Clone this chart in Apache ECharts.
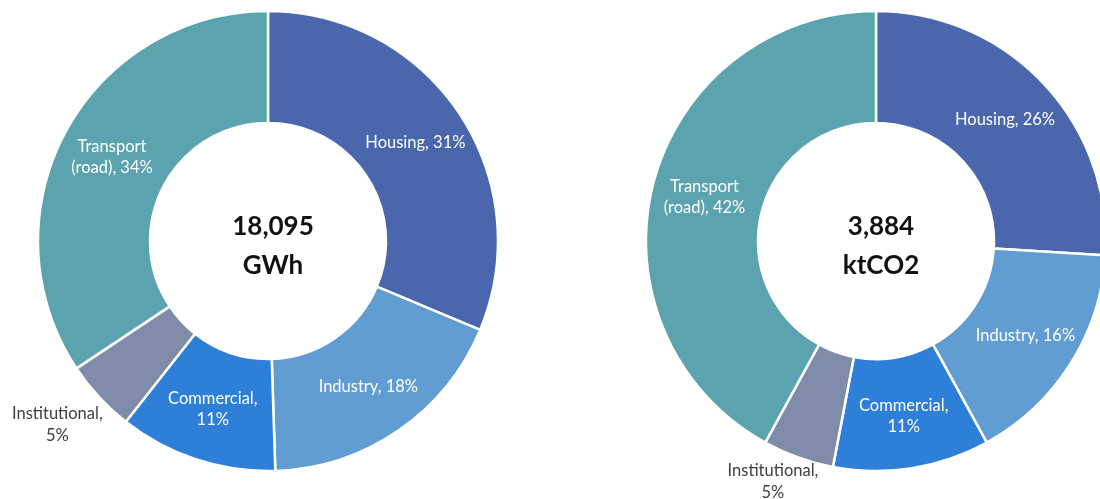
<!DOCTYPE html>
<html>
<head>
<meta charset="utf-8">
<title>Energy consumption and emissions by sector</title>
<script src="https://cdn.jsdelivr.net/npm/echarts@6/dist/echarts.min.js"></script>
<style>
  html, body { margin: 0; padding: 0; background: #ffffff; }
  #chart { width: 1100px; height: 499px; }
</style>
</head>
<body>
<div id="chart"></div>
<script>
// Sector names, clockwise from 12 o'clock
const categories = ['Housing', 'Industry', 'Commercial', 'Institutional', 'Transport (road)'];

// Share of each sector, in percent
const energyShares = [31, 18, 11, 5, 34];
const emissionShares = [26, 16, 11, 5, 42];

// Totals written in the middle of each ring
const totals = ['18,095', '3,884'];
const units = ['GWh', 'ktCO2'];

const sectorColors = ['#4A66AD', '#619DD2', '#2D7FD8', '#7F8CA9', '#5BA3AE'];

const FONT = 'Lato, "Open Sans", sans-serif';
const LABEL_SIZE = 16.5;

function sliceLabel(p) {
  const name = p.name.replace(' (', '\n(');
  const wrap = p.name === 'Commercial';
  return name + (wrap ? ',\n' : ', ') + p.value + '%';
}

function buildData(values) {
  return categories.map((name, i) => {
    const item = { name: name, value: values[i], itemStyle: { color: sectorColors[i] } };
    if (name === 'Institutional') {
      // the small slice gets its label outside the ring, in dark text
      item.label = {
        position: 'outside',
        formatter: '{t|{b},}\n{t|{c}%}',
        rich: {
          t: { align: 'center', color: '#404040', fontFamily: FONT, fontSize: LABEL_SIZE, lineHeight: 22 }
        }
      };
    }
    return item;
  });
}

function ring(values, center, lineLen, labelGap) {
  return {
    type: 'pie',
    center: center,
    radius: [118, 230],
    startAngle: 90,
    clockwise: true,
    avoidLabelOverlap: false,
    animation: false,
    itemStyle: { borderColor: '#ffffff', borderWidth: 2.5 },
    label: {
      show: true,
      position: 'inside',
      formatter: sliceLabel,
      color: '#ffffff',
      fontFamily: FONT,
      fontSize: LABEL_SIZE,
      lineHeight: 21,
      distanceToLabelLine: labelGap
    },
    labelLine: { show: false, length: lineLen, length2: 0 },
    emphasis: { disabled: true },
    data: buildData(values)
  };
}

const centers = [[268, 241], [876, 241]];

const chart = echarts.init(document.getElementById('chart'), null, { renderer: 'canvas' });
chart.setOption({
  backgroundColor: '#ffffff',
  title: centers.map((c, i) => ({
    text: totals[i] + '\n' + units[i],
    left: c[0],
    top: 202,
    textAlign: 'center',
    textStyle: { fontFamily: FONT, fontWeight: 'bold', fontSize: 26, lineHeight: 39, color: '#111111' }
  })),
  series: [
    ring(energyShares, centers[0], 40, -33),
    ring(emissionShares, centers[1], 26, -29)
  ]
});
</script>
</body>
</html>
